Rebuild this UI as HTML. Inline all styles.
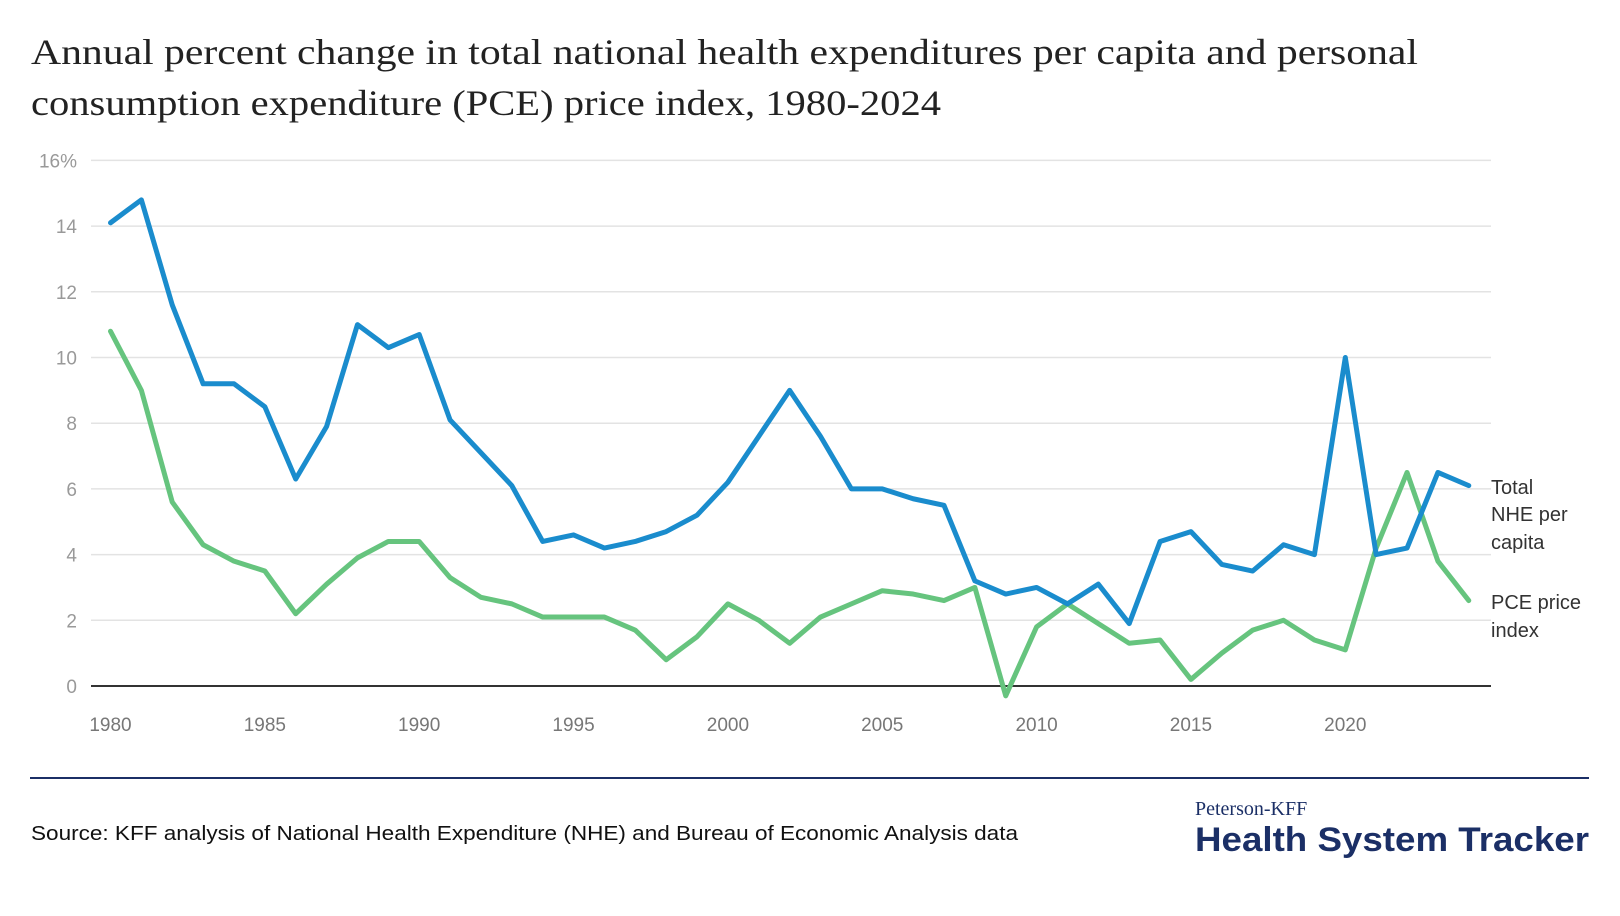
<!DOCTYPE html>
<html><head><meta charset="utf-8"><style>
body{margin:0;background:#fff;width:1620px;height:916px;overflow:hidden;font-family:"Liberation Sans",sans-serif}
svg{position:absolute;left:0;top:0}
</style></head><body>
<svg width="1620" height="916">
<text font-family="Liberation Serif,serif" font-size="36" fill="#222"><tspan x="31" y="64" textLength="1387" lengthAdjust="spacingAndGlyphs">Annual percent change in total national health expenditures per capita and personal</tspan><tspan x="31" y="115" textLength="910" lengthAdjust="spacingAndGlyphs">consumption expenditure (PCE) price index, 1980-2024</tspan></text>
<g id="grid"></g><g id="lines"></g>
<text font-size="20" fill="#333"><tspan x="1491" y="494">Total</tspan><tspan x="1491" y="521">NHE per</tspan><tspan x="1491" y="549">capita</tspan></text>
<text font-size="20" fill="#333"><tspan x="1491" y="609">PCE price</tspan><tspan x="1491" y="637">index</tspan></text>
<line x1="30" x2="1589" y1="778" y2="778" stroke="#1b2f66" stroke-width="2"/>
<text x="31" y="840" font-size="20" fill="#111" textLength="987" lengthAdjust="spacingAndGlyphs">Source: KFF analysis of National Health Expenditure (NHE) and Bureau of Economic Analysis data</text>
<text x="1195" y="815" font-family="Liberation Serif,serif" font-size="20" fill="#1b2f66">Peterson-KFF</text>
<text x="1589" y="851" text-anchor="end" font-size="34" font-weight="bold" fill="#1b2f66" textLength="394" lengthAdjust="spacingAndGlyphs">Health System Tracker</text>
</svg>
<script>
const years=[];for(let y=1980;y<=2024;y++)years.push(y);
const nhe=[14.1,14.8,11.6,9.2,9.2,8.5,6.3,7.9,11.0,10.3,10.7,8.1,7.1,6.1,4.4,4.6,4.2,4.4,4.7,5.2,6.2,7.6,9.0,7.6,6.0,6.0,5.7,5.5,3.2,2.8,3.0,2.5,3.1,1.9,4.4,4.7,3.7,3.5,4.3,4.0,10.0,4.0,4.2,6.5,6.1];
const pce=[10.8,9.0,5.6,4.3,3.8,3.5,2.2,3.1,3.9,4.4,4.4,3.3,2.7,2.5,2.1,2.1,2.1,1.7,0.8,1.5,2.5,2.0,1.3,2.1,2.5,2.9,2.8,2.6,3.0,-0.3,1.8,2.5,1.9,1.3,1.4,0.2,1.0,1.7,2.0,1.4,1.1,4.2,6.5,3.8,2.6];
const yTicks=[0,2,4,6,8,10,12,14,16];
const yTickLabels=["0","2","4","6","8","10","12","14","16%"];
const xTicks=[1980,1985,1990,1995,2000,2005,2010,2015,2020];
const NS="http://www.w3.org/2000/svg";
const x=v=>110.5+(v-1980)*30.87;
const y=v=>686-v*32.85;
function mk(t,a,p){const e=document.createElementNS(NS,t);for(const k in a)e.setAttribute(k,a[k]);p.appendChild(e);return e;}
const g=document.getElementById('grid');
yTicks.forEach((t,i)=>{
 const l=mk('line',{x1:91,x2:1491,y1:y(t),y2:y(t),stroke:t===0?'#333':'#e3e3e3','stroke-width':t===0?2:1.5},g);
 
 
 const tx=mk('text',{x:77,y:y(t)+7,'text-anchor':'end','font-size':19,fill:'#999'},g);
 tx.textContent=yTickLabels[i];
 
 
});
xTicks.forEach(t=>{
 const tx=mk('text',{x:x(t),y:731,'text-anchor':'middle','font-size':19,fill:'#777'},g);
 tx.textContent=t;
 
 
});
const L=document.getElementById('lines');
function line(d,c,n){const p=mk('polyline',{points:d.map((v,i)=>x(years[i])+','+y(v)).join(' '),fill:'none',stroke:c,'stroke-width':5,'stroke-linejoin':'round','stroke-linecap':'round'},L);
 
 }
line(pce,'#66c47e','pce-line');
line(nhe,'#1a8ccd','nhe-line');
</script>
</body></html>
